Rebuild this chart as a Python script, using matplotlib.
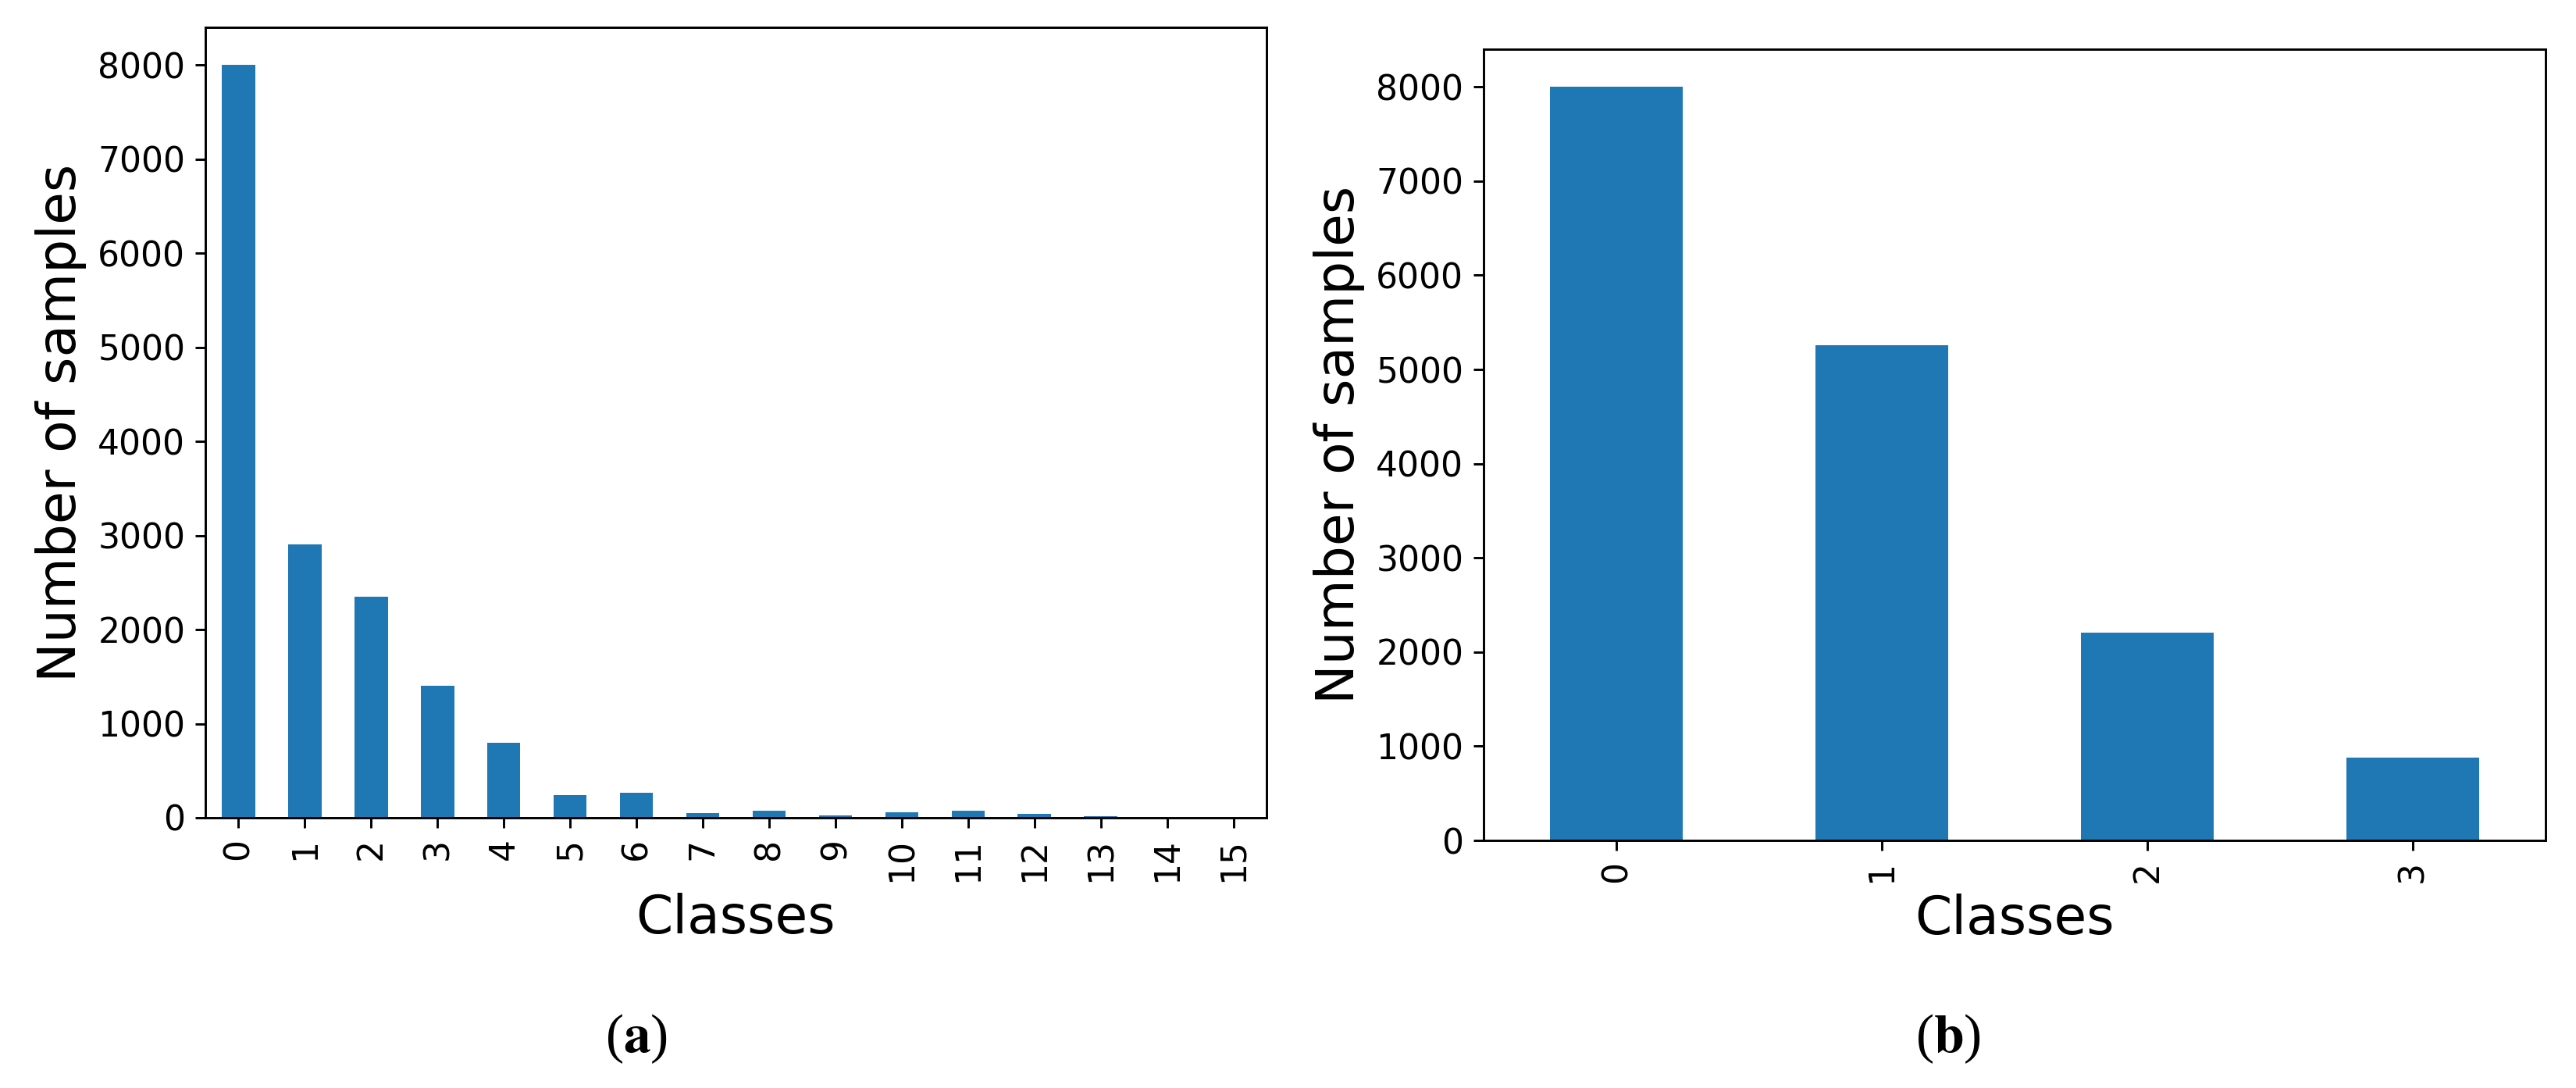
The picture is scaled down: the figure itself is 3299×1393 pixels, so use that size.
import matplotlib
matplotlib.use('Agg')
import matplotlib.pyplot as plt

# class counts, panel (a): 16 classes
classes_a = list(range(16))
counts_a = [8000, 2905, 2350, 1400, 797, 238, 264, 47, 72, 22, 55, 72, 39, 14, 3, 2]

# class counts, panel (b): 4 classes
classes_b = list(range(4))
counts_b = [8000, 5257, 2207, 881]

bar_color = '#1f77b4'

plt.rcParams['font.family'] = 'DejaVu Sans'
plt.rcParams['mathtext.fontset'] = 'stix'

W, H = 3299, 1393
dpi = 264
fig = plt.figure(figsize=(W / dpi, H / dpi), dpi=dpi)

ax1 = fig.add_axes([263 / W, 1 - 1047 / H, 1359 / W, 1012 / H])
ax2 = fig.add_axes([1900 / W, 1 - 1076 / H, 1360 / W, 1013 / H])


def draw_panel(ax, classes, counts):
    ax.bar(classes, counts, width=0.5, color=bar_color)
    ax.set_xlim(-0.5, len(classes) - 0.5)
    ax.set_ylim(0, 8400)
    ax.set_xticks(classes)
    ax.set_xticklabels([str(c) for c in classes], rotation=90)
    ax.tick_params(labelsize=12)
    ax.set_xlabel('Classes', fontsize=18.5)
    ax.set_ylabel('Number of samples', fontsize=18.5)


draw_panel(ax1, classes_a, counts_a)
draw_panel(ax2, classes_b, counts_b)

fig.text(815 / W, 1 - 1330 / H, r'($\mathbf{a}$)', family='Liberation Serif',
         fontsize=19, ha='center', va='center')
fig.text(2495 / W, 1 - 1330 / H, r'($\mathbf{b}$)', family='Liberation Serif',
         fontsize=19, ha='center', va='center')

fig.savefig('out.png', dpi=dpi)
